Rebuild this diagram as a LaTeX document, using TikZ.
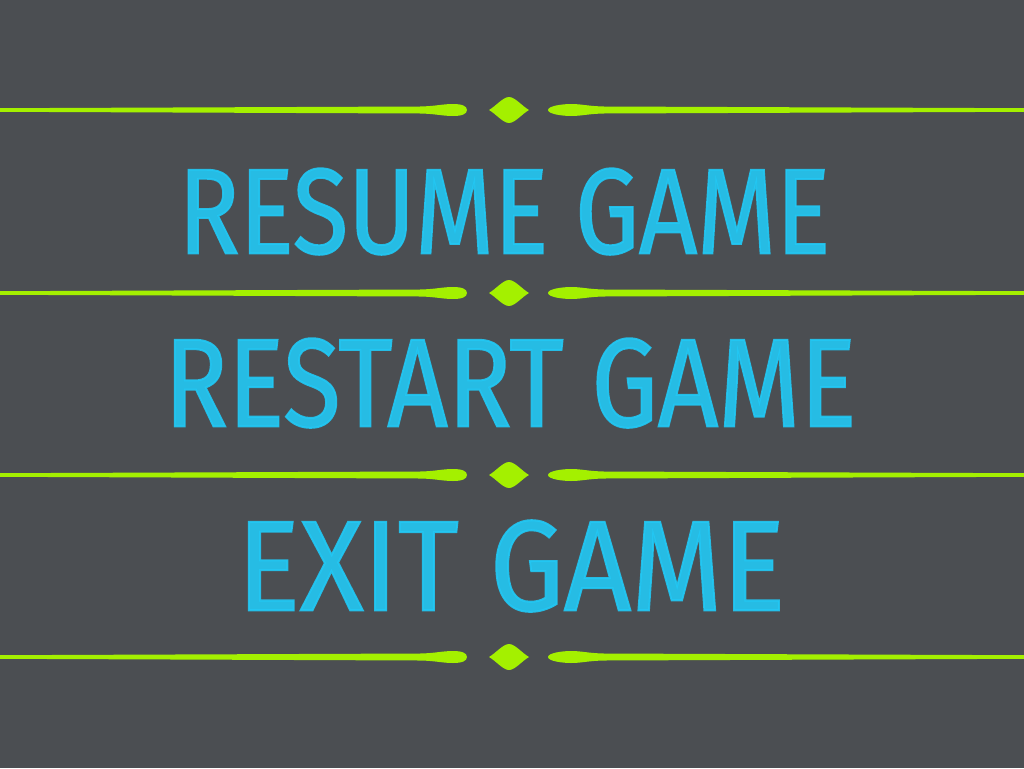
\documentclass[tikz,border=0pt]{standalone}
\usepackage{fontspec}
\newfontfamily\menufont[FakeBold=1.6]{Fira Sans}
\definecolor{board}{HTML}{4B4E52}
\definecolor{lime}{HTML}{A4F000}
\definecolor{chalkcyan}{HTML}{22C8F4}
\tikzset{
  menutext/.style={inner sep=0pt, text=chalkcyan, text opacity=0.9, font=\menufont},
  pics/divider/.style={code={
    \fill[lime] (0,-1.8) -- (420,-3.5) .. controls (436,-3.8) and (442,-6) .. (453,-6)
      .. controls (462,-6) and (467,-4) .. (467,0)
      .. controls (467,4) and (462,6) .. (453,6)
      .. controls (442,6) and (436,3.8) .. (420,3.5) -- (0,1.8) -- cycle;
    \fill[lime] (1024,-1.8) -- (604,-3.5) .. controls (588,-3.8) and (582,-6) .. (571,-6)
      .. controls (562,-6) and (548,-4) .. (548,0)
      .. controls (548,4) and (562,6) .. (571,6)
      .. controls (582,6) and (588,3.8) .. (604,3.5) -- (1024,1.8) -- cycle;
    \fill[lime] (489,0) .. controls (496,-4) and (503,-13) .. (509,-13)
      .. controls (515,-13) and (522,-4) .. (529,0)
      .. controls (522,4) and (515,13) .. (509,13)
      .. controls (503,13) and (496,4) .. (489,0) -- cycle;
  }}
}
\begin{document}
\begin{tikzpicture}[x=1pt,y=-1pt]
  \fill[board] (0,0) rectangle (1024,768);
  \useasboundingbox (0,0) rectangle (1024,768);
  \pic at (0,110) {divider};
  \pic at (0,293) {divider};
  \pic at (0,475) {divider};
  \pic at (0,657) {divider};
  \node[menutext, anchor=south west] (resume) at (178,255)
    {\resizebox{652pt}{85pt}{RESUME GAME}};
  \node[menutext, anchor=south west] (restart) at (164,428)
    {\resizebox{692pt}{88pt}{RESTART GAME}};
  \node[menutext, anchor=south west] (exit) at (237,612)
    {\resizebox{548pt}{90pt}{EXIT GAME}};
\end{tikzpicture}
\end{document}
